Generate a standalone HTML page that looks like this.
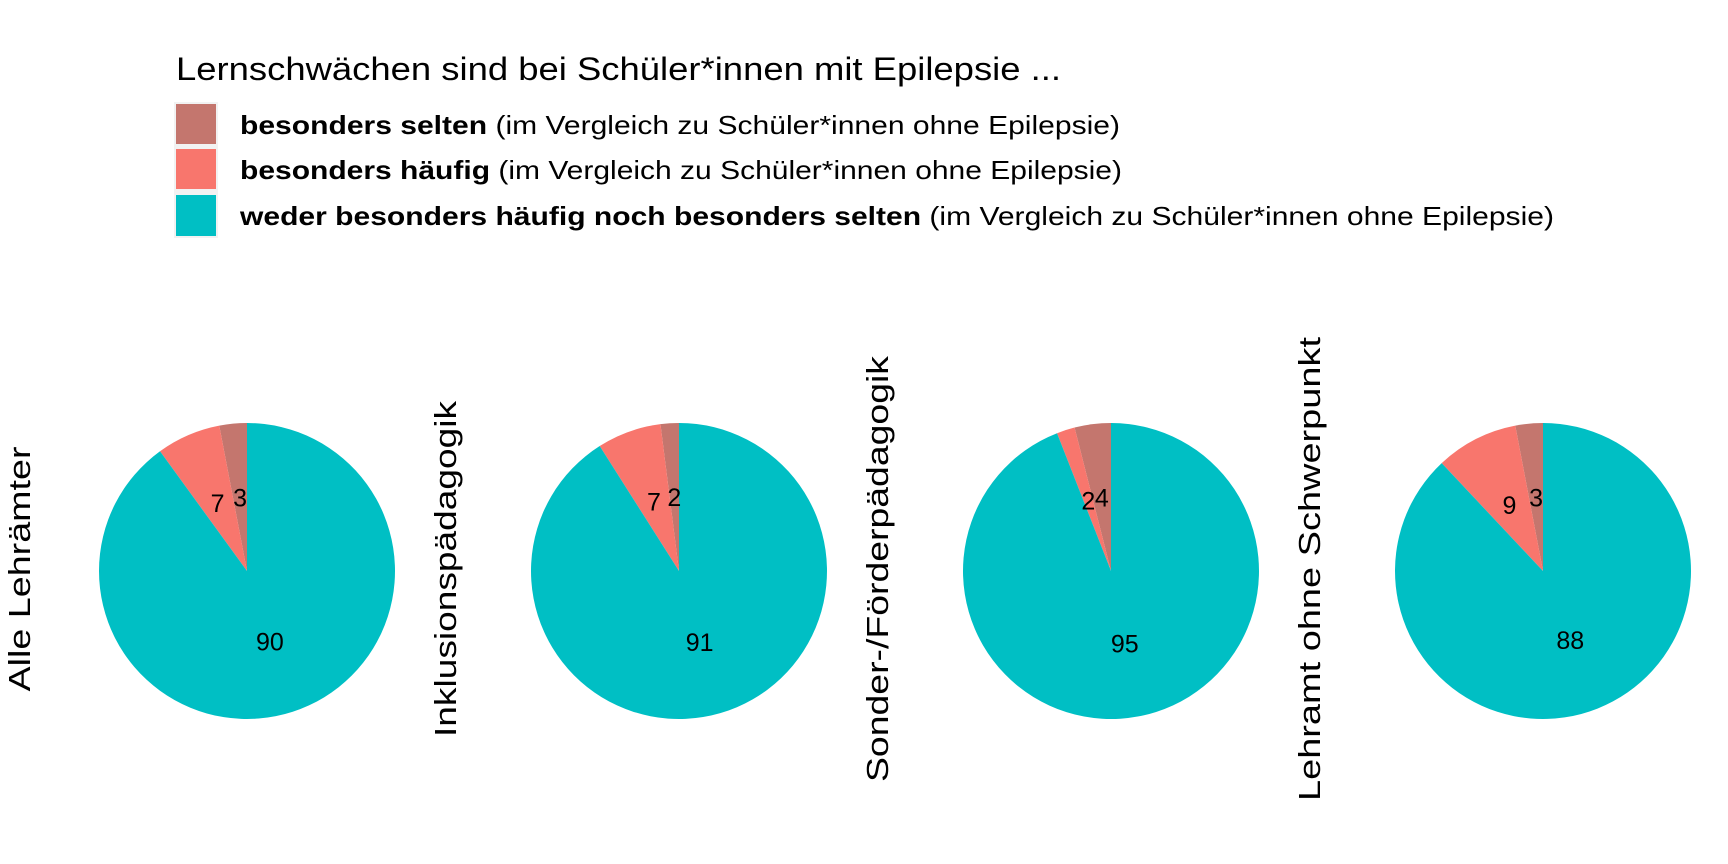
<!DOCTYPE html>
<html><head><meta charset="utf-8"><style>
body{margin:0;background:#fff}
svg{display:block;font-family:"Liberation Sans",Arial,sans-serif}
</style></head><body>
<svg id="chart" width="1728" height="864" viewBox="0 0 1728 864">
<rect width="1728" height="864" fill="#fff"/>
<g>
<text x="176" y="80" font-size="32" textLength="885" lengthAdjust="spacingAndGlyphs">Lernschwächen sind bei Schüler*innen mit Epilepsie ...</text>
<rect x="174" y="102" width="44" height="136" fill="#f2f2f2"/>
<rect x="176" y="104" width="40" height="40" fill="#C4766E"/>
<rect x="176" y="149" width="40" height="40" fill="#F8766D"/>
<rect x="176" y="195" width="40" height="41" fill="#00BFC4"/>
<text x="240" y="134" font-size="26" textLength="880" lengthAdjust="spacingAndGlyphs"><tspan font-weight="bold">besonders selten</tspan> (im Vergleich zu Schüler*innen ohne Epilepsie)</text>
<text x="240" y="179" font-size="26" textLength="882" lengthAdjust="spacingAndGlyphs"><tspan font-weight="bold">besonders häufig</tspan> (im Vergleich zu Schüler*innen ohne Epilepsie)</text>
<text x="240" y="225" font-size="26" textLength="1314" lengthAdjust="spacingAndGlyphs"><tspan font-weight="bold">weder besonders häufig noch besonders selten</tspan> (im Vergleich zu Schüler*innen ohne Epilepsie)</text>
</g>
<g id="pies"></g>
</svg>
<script>
const groups = ["Alle Lehrämter","Inklusionspädagogik","Sonder-/Förderpädagogik","Lehramt ohne Schwerpunkt"];
const selten = [3,2,4,3];
const haeufig = [7,7,2,9];
const weder = [90,91,95,88];
const labelLens = [245,336,426,464];
const colors = ["#C4766E","#F8766D","#00BFC4"];
const NS="http://www.w3.org/2000/svg";
const g=document.getElementById('pies');
const R=148, CY=571;
function cx(i){return 247+i*432;}
function pt(x0,frac,d){const a=frac*2*Math.PI;return [x0-Math.sin(a)*d, CY-Math.cos(a)*d];}
groups.forEach((name,i)=>{
  const x0=cx(i);
  const vals=[selten[i],haeufig[i],weder[i]];
  const tot=vals.reduce((a,b)=>a+b,0);
  let cum=0;
  const names=['slice-selten','slice-haeufig','slice-weder'];
  vals.forEach((v,k)=>{
    const f0=cum/tot, f1=(cum+v)/tot; cum+=v;
    const p0=pt(x0,f0,R), p1=pt(x0,f1,R);
    const large=(f1-f0)>0.5?1:0;
    const path=document.createElementNS(NS,'path');
    path.setAttribute('d',`M${x0},${CY} L${p0[0]},${p0[1]} A${R},${R} 0 ${large} 0 ${p1[0]},${p1[1]} Z`);
    path.setAttribute('fill',colors[k]);
    
    
    g.appendChild(path);
  });
  cum=0;
  vals.forEach((v,k)=>{
    const fm=(cum+v/2)/tot; cum+=v;
    const p=pt(x0,fm,R/2);
    const t=document.createElementNS(NS,'text');
    t.setAttribute('x',p[0]);t.setAttribute('y',p[1]+9);
    t.setAttribute('font-size','25');t.setAttribute('text-anchor','middle');
    t.textContent=v;
    
    
    g.appendChild(t);
  });
  const s=document.createElementNS(NS,'text');
  const bx=i===0?30:24+i*432;
  s.setAttribute('transform',`translate(${bx},569) rotate(-90)`);
  s.setAttribute('text-anchor','middle');
  s.setAttribute('font-size','31');
  s.setAttribute('textLength',labelLens[i]);
  s.setAttribute('lengthAdjust','spacingAndGlyphs');
  s.textContent=name;
  
  
  g.appendChild(s);
});
</script>
</body></html>
